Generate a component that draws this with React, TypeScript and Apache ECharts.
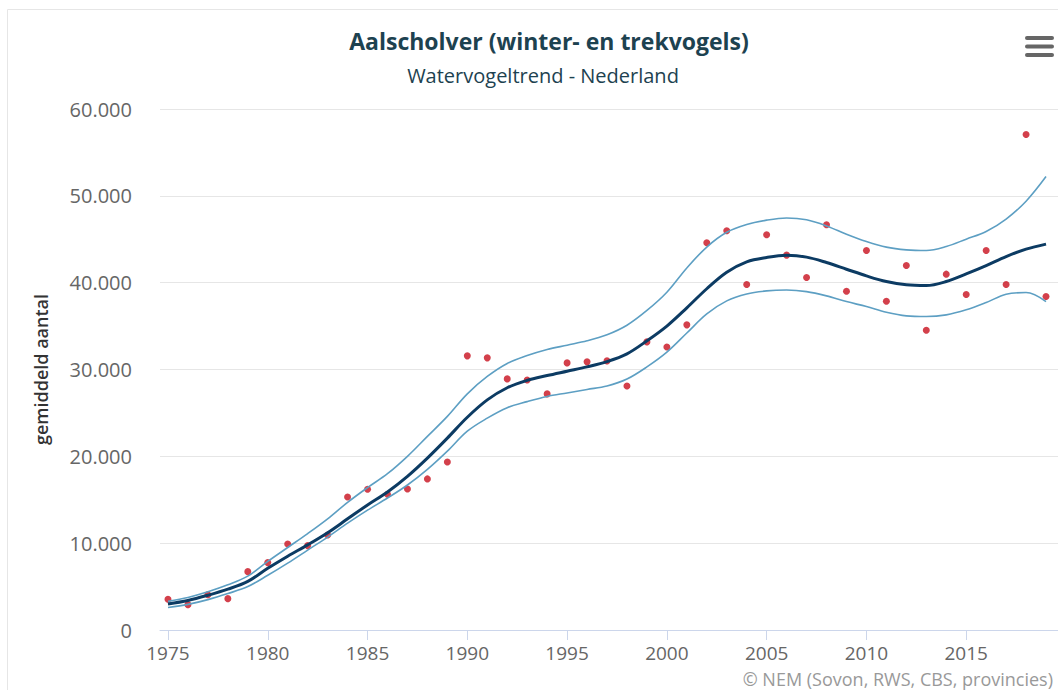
import React, { useEffect, useRef } from "react";
import * as echarts from "echarts";

const years = [
  1975, 1976, 1977, 1978, 1979, 1980, 1981, 1982, 1983, 1984, 1985, 1986, 1987, 1988, 1989,
  1990, 1991, 1992, 1993, 1994, 1995, 1996, 1997, 1998, 1999, 2000, 2001, 2002, 2003, 2004,
  2005, 2006, 2007, 2008, 2009, 2010, 2011, 2012, 2013, 2014, 2015, 2016, 2017, 2018, 2019,
];

const observed = [
  3540, 2920, 4070, 3610, 6720, 7760, 9910, 9720, 10940, 15320, 16210, 15630, 16240, 17400, 19350,
  31570, 31340, 28920, 28800, 27190, 30760, 30880, 30990, 28110, 33180, 32600, 35140, 44590, 45970, 39780,
  45510, 43170, 40590, 46660, 39020, 43700, 37870, 41970, 34530, 40980, 38630, 43700, 39780, 57060, 38400,
];

const trend = [
  3000, 3400, 4000, 4700, 5600, 7100, 8500, 9800, 11200, 12800, 14400, 15900, 17700, 19800, 22100,
  24500, 26500, 27900, 28750, 29300, 29800, 30300, 30900, 31800, 33300, 35000, 37100, 39300, 41200, 42400,
  42900, 43150, 42940, 42320, 41550, 40780, 40130, 39750, 39670, 40130, 41010, 41970, 43010, 43860, 44440,
];

const upper = [
  3300, 3750, 4400, 5200, 6200, 7900, 9500, 11100, 12800, 14700, 16400, 18000, 20000, 22300, 24600,
  27200, 29200, 30700, 31600, 32300, 32800, 33300, 34000, 35100, 36800, 38900, 41700, 44100, 45800, 46700,
  47200, 47450, 47240, 46540, 45580, 44740, 44090, 43780, 43700, 44160, 45010, 45890, 47320, 49380, 52220,
];

const lower = [
  2600, 2950, 3500, 4200, 5000, 6300, 7700, 9200, 10700, 12300, 13800, 15200, 16700, 18500, 20600,
  22900, 24400, 25600, 26300, 26900, 27300, 27700, 28100, 28900, 30300, 32000, 34200, 36400, 37900, 38700,
  39050, 39150, 38970, 38480, 37820, 37250, 36600, 36180, 36100, 36290, 36870, 37710, 38670, 38860, 37820,
];

const yTicks = [0, 10000, 20000, 30000, 40000, 50000, 60000];
const xTicks = [1975, 1980, 1985, 1990, 1995, 2000, 2005, 2010, 2015];

const chartTitle = "Aalscholver (winter- en trekvogels)";
const chartSubtitle = "Watervogeltrend - Nederland";
const yAxisTitle = "gemiddeld aantal";
const creditText = "\u00A9 NEM (Sovon, RWS, CBS, provincies)";

const fmt = (v: number) =>
  Math.round(v)
    .toString()
    .replace(/\B(?=(\d{3})+(?!\d))/g, ".");

const pairs = (vals: number[]) => years.map((y, i) => [y, vals[i]]);

export default function App() {
  const ref = useRef<HTMLDivElement>(null);

  useEffect(() => {
    if (!ref.current) return;
    const chart = echarts.init(ref.current, undefined, { renderer: "svg" });
    const font = "'Open Sans', 'DejaVu Sans', sans-serif";
    chart.setOption({
      animation: false,
      backgroundColor: "#ffffff",
      textStyle: { fontFamily: font },
      grid: { left: 160, right: 0, top: 109, bottom: 60, containLabel: false },
      xAxis: {
        type: "value",
        min: 1974.6,
        max: 2019.6,
        interval: 5,
        axisLine: { show: true, lineStyle: { color: "#ccd6eb", width: 1 } },
        axisTick: {
          show: true,
          length: 10,
          lineStyle: { color: "#ccd6eb" },
          customValues: xTicks,
        },
        axisLabel: {
          color: "#666666",
          fontSize: 19,
          margin: 13,
          customValues: xTicks,
          formatter: (v: number) => String(v),
        },
        splitLine: { show: false },
      },
      yAxis: {
        type: "value",
        min: 0,
        max: 60000,
        interval: 10000,
        name: yAxisTitle,
        nameLocation: "middle",
        nameGap: 110,
        nameRotate: 90,
        nameTextStyle: { color: "#333333", fontSize: 18, fontWeight: 600, fontFamily: font },
        axisLine: { show: false },
        axisTick: { show: false },
        axisLabel: {
          color: "#666666",
          fontSize: 20,
          margin: 28,
          customValues: yTicks,
          formatter: (v: number) => fmt(v),
        },
        splitLine: { show: true, lineStyle: { color: "#e6e6e6", width: 1 } },
      },
      series: [
        {
          type: "scatter",
          data: pairs(observed),
          symbol: "circle",
          symbolSize: 7,
          itemStyle: { color: "#c8101e" },
          z: 1,
        },
        {
          type: "line",
          data: pairs(upper),
          smooth: 0.35,
          showSymbol: false,
          lineStyle: { color: "#5d9fc3", width: 1.6 },
          z: 2,
        },
        {
          type: "line",
          data: pairs(lower),
          smooth: 0.35,
          showSymbol: false,
          lineStyle: { color: "#5d9fc3", width: 1.6 },
          z: 2,
        },
        {
          type: "line",
          data: pairs(trend),
          smooth: 0.35,
          showSymbol: false,
          lineStyle: { color: "#0c3b63", width: 3 },
          z: 3,
        },
      ],
      graphic: [
        {
          type: "rect",
          shape: { x: 7.5, y: 9.5, width: 1200, height: 800 },
          style: { fill: "none", stroke: "#e6e6e6", lineWidth: 1 },
          silent: true,
          z: -1,
        },
        {
          type: "text",
          x: 549,
          y: 41,
          style: {
            text: chartTitle,
            fill: "#1d4250",
            font: `bold 23px ${font}`,
            textAlign: "center",
            textVerticalAlign: "middle",
          },
        },
        {
          type: "text",
          x: 543,
          y: 75,
          style: {
            text: chartSubtitle,
            fill: "#1d4250",
            font: `20px ${font}`,
            textAlign: "center",
            textVerticalAlign: "middle",
          },
        },
        {
          type: "text",
          x: 1053,
          y: 679,
          style: {
            text: creditText,
            fill: "#999999",
            font: `18px ${font}`,
            textAlign: "right",
            textVerticalAlign: "middle",
          },
        },
        {
          type: "group",
          children: [
            { type: "rect", shape: { x: 1025, y: 36, width: 29, height: 4, r: 2 }, style: { fill: "#666666" } },
            { type: "rect", shape: { x: 1025, y: 44.5, width: 29, height: 4, r: 2 }, style: { fill: "#666666" } },
            { type: "rect", shape: { x: 1025, y: 53, width: 29, height: 4, r: 2 }, style: { fill: "#666666" } },
          ],
        },
      ],
    });
    return () => chart.dispose();
  }, []);

  return (
    <div
      ref={ref}
      style={{ position: "absolute", left: 0, top: 0, width: 1058, height: 690 }}
    />
  );
}
